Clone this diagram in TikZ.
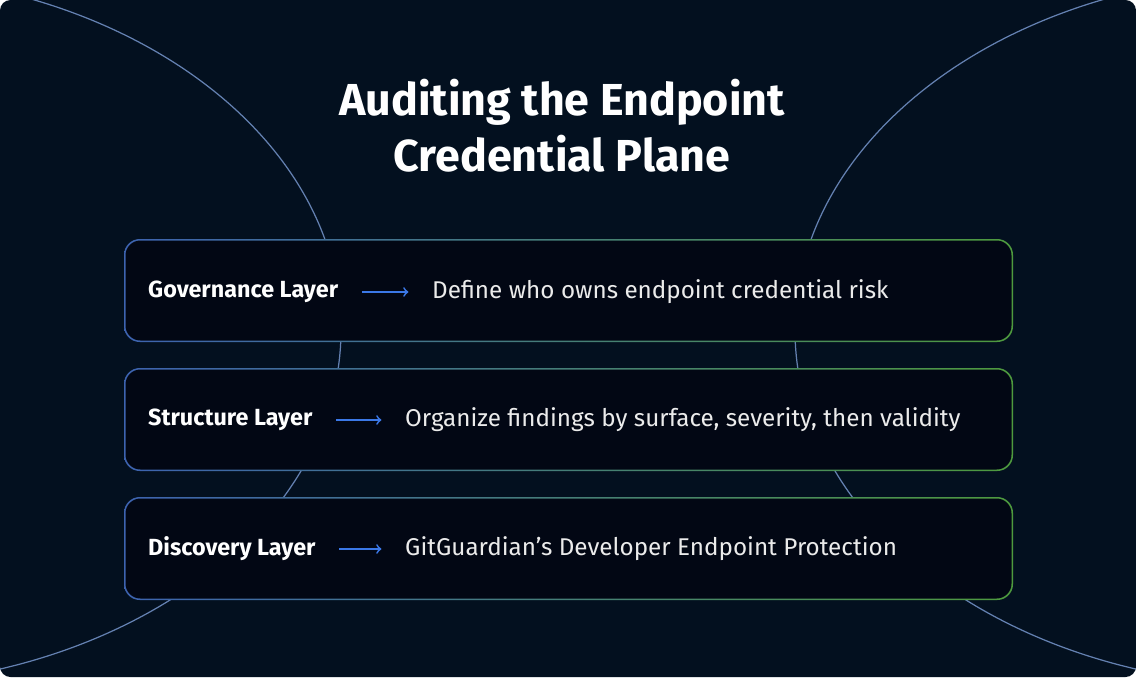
\documentclass[tikz,border=0pt]{standalone}
\usepackage{fontspec}
\setmainfont{Fira Sans}
\usetikzlibrary{positioning}
\definecolor{bgnavy}{HTML}{03101F}
\definecolor{boxfill}{HTML}{020714}
\definecolor{edgeblue}{HTML}{3D63B0}
\definecolor{edgegreen}{HTML}{4E9A3E}
\definecolor{arrowblue}{HTML}{3B78E7}
\definecolor{arcblue}{HTML}{8DB2F0}
\tikzset{
  layer/.style={font=\fontsize{13.3}{15}\selectfont\bfseries, text=white, anchor=west},
  note/.style={font=\fontsize{13.8}{16}\selectfont, text=white!92!black, anchor=west},
  link/.style={-to, arrowblue, line width=1pt, shorten <=10pt, shorten >=10pt}
}
\begin{document}
\begin{tikzpicture}[x=0.02cm, y=-0.02cm]
    % Background
    \fill[white] (0,0) rectangle (1136,677);
    \fill[bgnavy, rounded corners=6] (0,0) rectangle (1136,677);
    \useasboundingbox (0,0) rectangle (1136,677);

    % Decorative arcs
    \begin{scope}
        \clip (0,0) rectangle (1136,677);
        \draw[arcblue!70!bgnavy, line width=0.7pt] (-150,330) ellipse (491 and 356);
        \draw[arcblue!70!bgnavy, line width=0.7pt] (1286,330) ellipse (491 and 356);
    \end{scope}

    % Title
    \node[font=\fontsize{25.5}{32}\selectfont\bfseries, text=white, align=center] (title) at (562,126)
        {Auditing the Endpoint\\Credential Plane};

    % Layer boxes
    \foreach \top in {239,368,497} {
        \shade[left color=edgeblue, right color=edgegreen, rounded corners=9]
            (124,\top) rectangle (1013,\top+103);
        \fill[boxfill, rounded corners=8.5] (125.5,\top+1.5) rectangle (1011.5,\top+101.5);
    }

    % Labels and descriptions
    \node[layer] (gov) at (142,292) {Governance Layer};
    \node[note] (govtext) at (426,292) {Define who owns endpoint credential risk};
    \node[layer] (struct) at (142,420) {Structure Layer};
    \node[note] (structtext) at (399,420) {Organize findings by surface, severity, then validity};
    \node[layer] (disc) at (142,549) {Discovery Layer};
    \node[note] (disctext) at (399,549) {GitGuardian's Developer Endpoint Protection};

    % Arrows
    \draw[link] (gov) -- (govtext);
    \draw[link] (struct) -- (structtext);
    \draw[link] (disc) -- (disctext);
\end{tikzpicture}
\end{document}
